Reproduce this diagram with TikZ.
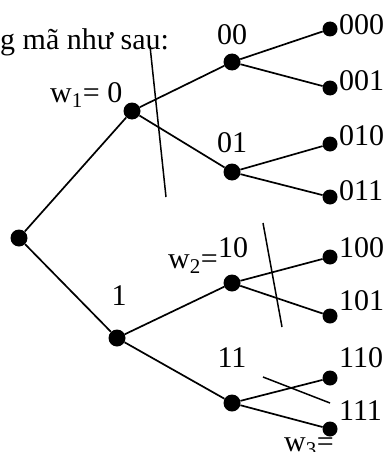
\documentclass[tikz,border=0pt]{standalone}
\usepackage{fontspec}
\setmainfont{Liberation Serif}
\usepackage{tikz}

\begin{document}
\begin{tikzpicture}[
      x=1pt, y=-1pt,
      dot/.style={circle, fill=black, draw=none,
                  minimum size=17pt, inner sep=0pt},
      leaf/.style={circle, fill=black, draw=none,
                   minimum size=15pt, inner sep=0pt},
      edge/.style={draw=black, line width=1.7pt},
      cut/.style={draw=black, line width=1.5pt},
      lbl/.style={font=\fontsize{30}{34}\selectfont, inner sep=0pt},
    ]
    \useasboundingbox (0,0) rectangle (388,452);
    %% heading (cut at the left edge)
    \node[lbl, anchor=base west] (title) at (0,50) {g mã như sau:};
    %% inner nodes
    \node[dot] (r) at (19,238) {};
    \node[dot] (n0) at (132,111) {};
    \node[dot] (n1) at (117,338) {};
    \node[dot] (n00) at (232,62) {};
    \node[dot] (n01) at (232,172) {};
    \node[dot] (n10) at (232,283) {};
    \node[dot] (n11) at (232,403) {};
    %% leaves with their codewords
    \foreach \k/\y/\b in {000/29/35, 001/88/90, 010/144/145, 011/197/200,
                          100/257/257, 101/316/310, 110/378/367, 111/429/420}{
      \node[leaf] (n\k) at (330,\y) {};
      \node[lbl, anchor=base west] (t\k) at (339,\b) {\k};
    }
    %% branches
    \foreach \a/\c in {r/n0, r/n1, n0/n00, n0/n01, n1/n10, n1/n11}{
      \draw[edge] (\a) -- (\c);
    }
    \foreach \a in {0,1}{
      \foreach \c in {0,1}{
        \draw[edge] (n\a\c) -- (n\a\c0);
        \draw[edge] (n\a\c) -- (n\a\c1);
      }
    }
    %% labels of inner nodes
    \node[lbl, anchor=base west] (w1) at (50,102) {w\textsubscript{1}= 0};
    \node[lbl, anchor=base] (t00) at (232,45) {00};
    \node[lbl, anchor=base] (t01) at (232,152) {01};
    \node[lbl, anchor=base] (t1) at (119,305) {1};
    \node[lbl, anchor=base west] (t10) at (218,257) {10};
    \node[lbl, anchor=base east] (w2) at (218,268) {w\textsubscript{2}=};
    \node[lbl, anchor=base] (t11) at (232,367) {11};
    \node[lbl, anchor=base west] (w3) at (284,451) {w\textsubscript{3}=};
    %% cut strokes
    \coordinate (c1a) at (150,46);
    \coordinate (c1b) at (166,197);
    \coordinate (c2a) at (263,223);
    \coordinate (c2b) at (282,327);
    \coordinate (c3a) at (263,377);
    \coordinate (c3b) at (330,403);
    \draw[cut] (c1a) -- (c1b);
    \draw[cut] (c2a) -- (c2b);
    \draw[cut] (c3a) -- (c3b);
\end{tikzpicture}
\end{document}
